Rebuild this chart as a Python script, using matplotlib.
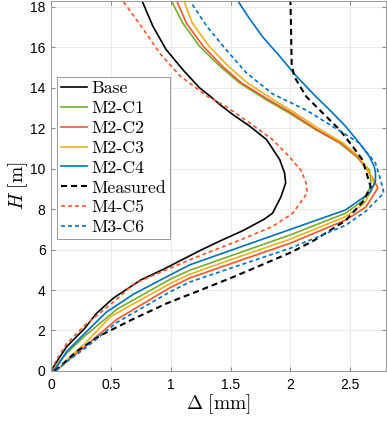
import matplotlib
matplotlib.use("Agg")
import matplotlib.pyplot as plt

# Base
base_x = [0, 0.03, 0.13, 0.28, 0.38, 0.52, 0.75, 0.94, 1.24, 1.42, 1.60, 1.78, 1.85, 1.92, 1.96,
          1.95, 1.91, 1.80, 1.66, 1.52, 1.41, 1.33, 1.24, 1.10, 0.96, 0.85, 0.76]
base_H = [0, 0.3, 1.2, 2.1, 2.85, 3.6, 4.5, 5.03, 5.94, 6.45, 6.93, 7.5, 7.8, 8.6, 9.3,
          9.8, 10.45, 11.44, 12.1, 12.67, 13.17, 13.58, 14.0, 14.9, 15.9, 17.05, 18.3]

# M2-C1
c1_x = [0.02, 0.06, 0.13, 0.28, 0.55, 1.0, 1.16, 1.5, 2.0, 2.46, 2.60, 2.67, 2.67, 2.66,
        2.55, 2.41, 2.21, 1.99, 1.80, 1.575, 1.41, 1.24, 1.10, 1.005]
c1_H = [0, 0.4, 0.87, 1.72, 3.05, 4.55, 4.98, 5.69, 6.73, 7.8, 8.4, 9.1, 9.5, 9.94,
        10.6, 11.27, 11.93, 12.75, 13.4, 14.24, 15.07, 16.06, 17.2, 18.3]

# M2-C2
c2_x = [0.04, 0.08, 0.13, 0.28, 0.55, 1.0, 1.16, 1.5, 2.0, 2.46, 2.63, 2.73, 2.69, 2.64,
        2.56, 2.42, 2.22, 2.01, 1.82, 1.59, 1.43, 1.27, 1.13, 1.05]
c2_H = [0, 0.2, 0.46, 1.2, 2.55, 4.14, 4.6, 5.3, 6.32, 7.46, 8.1, 9.05, 9.5, 9.94,
        10.6, 11.27, 11.93, 12.75, 13.4, 14.24, 15.07, 16.06, 17.2, 18.3]

# M2-C3
c3_x = [0.04, 0.08, 0.13, 0.28, 0.5, 1.0, 1.16, 1.5, 2.0, 2.46, 2.62, 2.70, 2.68, 2.64,
        2.57, 2.44, 2.25, 2.04, 1.86, 1.64, 1.48, 1.32, 1.18, 1.11]
c3_H = [0, 0.2, 0.54, 1.35, 2.7, 4.34, 4.78, 5.5, 6.52, 7.63, 8.3, 9.2, 9.6, 10.0,
        10.6, 11.27, 11.93, 12.75, 13.4, 14.24, 15.07, 16.06, 17.2, 18.3]

# M2-C4
c4_x = [0.02, 0.06, 0.13, 0.28, 0.46, 0.69, 0.96, 1.16, 1.5, 2.0, 2.46, 2.66, 2.71, 2.71, 2.70,
        2.66, 2.575, 2.46, 2.325, 2.21, 2.05, 1.91, 1.77, 1.66, 1.56]
c4_H = [0, 0.3, 0.96, 1.85, 2.9, 3.8, 4.64, 5.25, 5.96, 7.0, 7.96, 8.79, 9.37, 9.8, 10.1,
        10.6, 11.27, 12.1, 12.92, 13.58, 14.57, 15.56, 16.5, 17.4, 18.3]

# Measured
meas_x = [0.03, 0.09, 0.21, 0.41, 0.68, 0.97, 1.25, 1.52, 2.0, 2.19, 2.46, 2.61, 2.67, 2.64,
          2.60, 2.52, 2.41, 2.27, 2.13, 2.03, 2.01, 2.00]
meas_H = [0, 0.3, 0.95, 1.75, 2.55, 3.35, 4.0, 4.64, 5.85, 6.43, 7.43, 8.4, 9.1, 9.7,
          10.45, 11.1, 11.93, 12.75, 13.58, 14.57, 15.2, 18.3]

# M4-C5
c5_x = [0, 0.04, 0.13, 0.28, 0.55, 0.69, 0.96, 1.24, 1.60, 1.85, 2.02, 2.14, 2.13, 2.09,
        1.99, 1.85, 1.66, 1.46, 1.30, 1.075, 0.91, 0.77, 0.60]
c5_H = [0, 0.5, 1.35, 2.25, 3.55, 4.3, 5.0, 5.69, 6.52, 7.14, 7.8, 8.8, 9.3, 9.9,
        10.6, 11.44, 12.26, 13.08, 13.6, 14.6, 15.7, 16.9, 18.3]

# M3-C6
c6_x = [0.04, 0.08, 0.13, 0.28, 0.55, 1.0, 1.16, 1.5, 2.0, 2.46, 2.63, 2.78, 2.76, 2.71,
        2.575, 2.35, 2.13, 1.85, 1.63, 1.46, 1.30, 1.16]
c6_H = [0, 0.2, 0.46, 1.1, 2.4, 3.93, 4.4, 5.08, 6.07, 7.2, 7.9, 8.8, 9.3, 10.28,
        11.27, 12.1, 12.9, 13.7, 14.75, 15.9, 17.05, 18.3]

blue = '#0072BD'
red = '#F0582A'
yellow = '#EDB120'
green = '#77AC30'

plt.rcParams['mathtext.fontset'] = 'cm'
plt.rcParams['font.family'] = ['Liberation Sans', 'DejaVu Sans']

fig = plt.figure(figsize=(3.87, 4.22), dpi=100)
ax = fig.add_axes([0.132, 0.121, 0.866, 0.877])

lw = 1.2
ax.plot(base_x, base_H, '-', color='k', lw=lw, label='Base')
ax.plot(c1_x, c1_H, '-', color=green, lw=lw, label='M2-C1')
ax.plot(c2_x, c2_H, '-', color=red, lw=lw, label='M2-C2')
ax.plot(c3_x, c3_H, '-', color=yellow, lw=lw, label='M2-C3')
ax.plot(c4_x, c4_H, '-', color=blue, lw=lw, label='M2-C4')
ax.plot(meas_x, meas_H, '--', color='k', lw=1.5, dashes=(2.9, 1.9), label='Measured')
ax.plot(c5_x, c5_H, '--', color=red, lw=lw, dashes=(2.4, 1.8), label='M4-C5')
ax.plot(c6_x, c6_H, '--', color=blue, lw=lw, dashes=(2.4, 1.8), label='M3-C6')

ax.set_xlim(0, 2.8)
ax.set_ylim(0, 18.3)
ax.set_xticks([0, 0.5, 1, 1.5, 2, 2.5])
ax.set_xticklabels(['0', '0.5', '1', '1.5', '2', '2.5'])
ax.set_yticks(range(0, 19, 2))
ax.grid(True, color='#e6e6e6', lw=0.6)
ax.tick_params(direction='in', length=3, labelsize=10, top=True, right=True,
               color='#888888')
ax.tick_params(axis='x', pad=5)
ax.tick_params(axis='y', pad=4)
for s in ax.spines.values():
    s.set_color('#999999')
    s.set_linewidth(0.7)

ax.set_xlabel(r'$\Delta\ \mathrm{[mm]}$', fontsize=14, labelpad=0)
ax.set_ylabel(r'$H\ \mathrm{[m]}$', fontsize=14, labelpad=0)

leg = ax.legend(loc='upper left', bbox_to_anchor=(0.017, 0.795),
                prop={'family': 'cmr10', 'size': 12.8},
                handlelength=1.5, handletextpad=0.2, labelspacing=0.25,
                borderpad=0.22, borderaxespad=0, fancybox=False, framealpha=1)
leg.get_frame().set_edgecolor('#999999')
leg.get_frame().set_linewidth(0.7)

fig.savefig('out.png', dpi=100)
